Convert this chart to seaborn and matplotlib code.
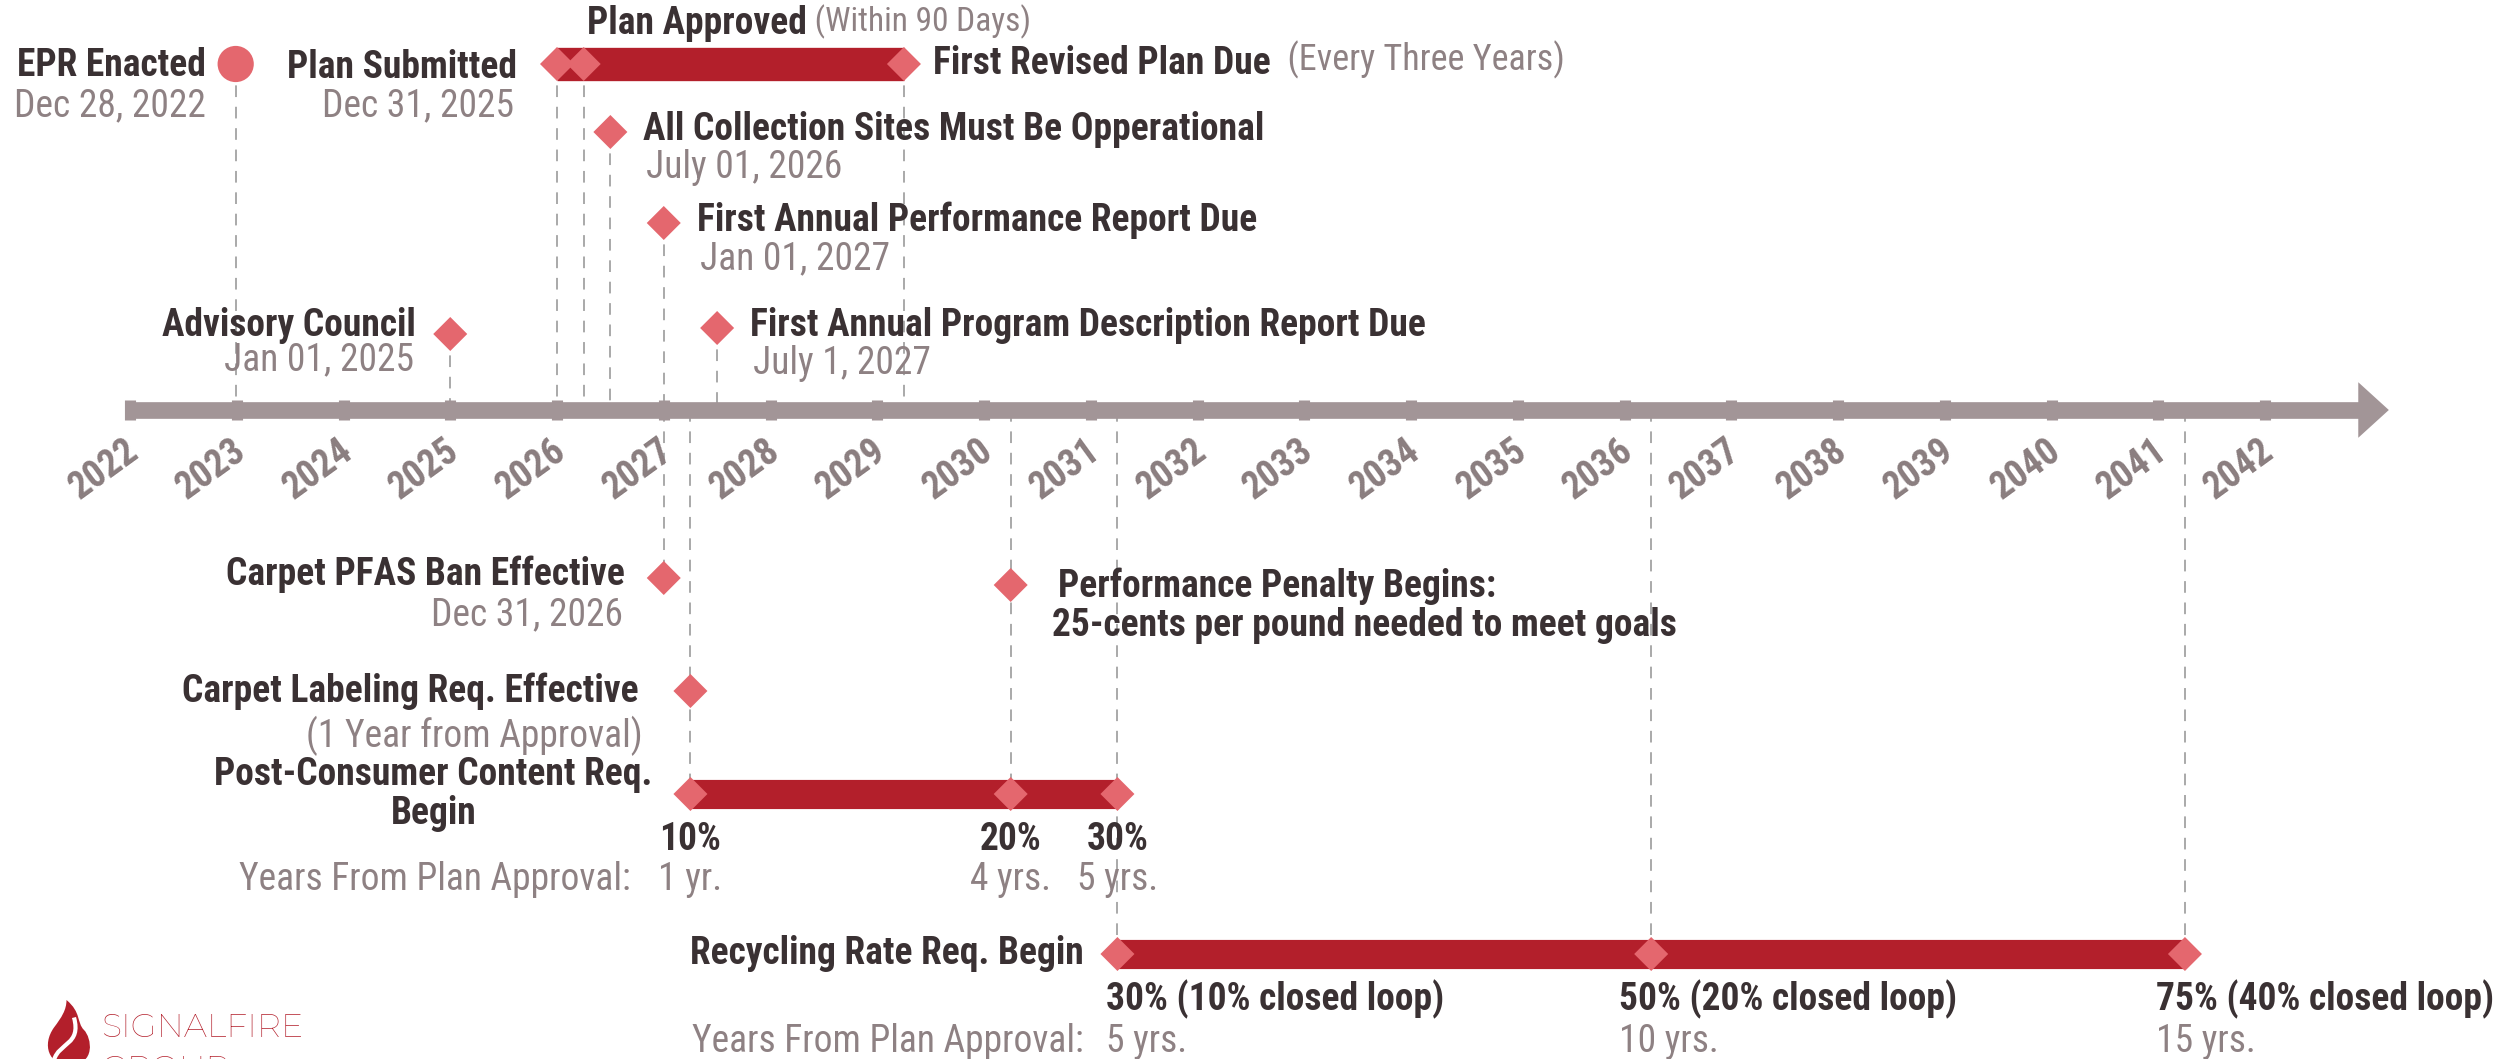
import matplotlib
matplotlib.use("Agg")
import matplotlib.pyplot as plt
import seaborn as sns
import pandas as pd
from matplotlib.path import Path
from matplotlib.patches import PathPatch
from matplotlib.transforms import Affine2D

# ---- data ----
years = list(range(2022, 2043))

epr_name = "EPR Enacted"
epr_date = 2022.99
epr_text = "Dec 28, 2022"

submitted_date = 2026.0
submitted_text = "Dec 31, 2025"
approved_date = 2026.25
revised_date = 2029.25

above_names = ["Advisory Council", "All Collection Sites Must Be Opperational",
               "First Annual Performance Report Due", "First Annual Program Description Report Due"]
above_dates = [2025.0, 2026.5, 2027.0, 2027.5]
above_texts = ["Jan 01, 2025", "July 01, 2026", "Jan 01, 2027", "July 1, 2027"]

pfas_date = 2027.0
pfas_text = "Dec 31, 2026"
labeling_date = 2027.25
penalty_date = 2030.25

pcc_dates = [2027.25, 2030.25, 2031.25]
pcc_pct = ["10%", "20%", "30%"]
pcc_yrs = ["1 yr.", "4 yrs.", "5 yrs."]

rec_dates = [2031.25, 2036.25, 2041.25]
rec_pct = ["30% (10% closed loop)", "50% (20% closed loop)", "75% (40% closed loop)"]
rec_yrs = ["5 yrs.", "10 yrs.", "15 yrs."]

# ---- layout (pixels, y measured from top) ----
W, H = 2519, 1059
PPY = 106.75                      # pixels per year
X0 = 2022 - 130 / PPY
X1 = X0 + W / PPY

Y_TOP = 64
Y_AXIS = 410
Y_ABOVE = [334, 132, 223, 328]
Y_PFAS = 578
Y_PENALTY = 585
Y_LABEL = 691
Y_PCC = 794
Y_REC = 954

DARK = "#3a3133"
GRAY = "#8e8183"
AXIS = "#a29597"
BAR = "#b31f2b"
DIAMOND = "#e4676e"
DASH = "#a9a9a9"
FONT = ["Roboto Condensed", "DejaVu Sans"]
FS = 27

sns.set_theme(style="white")
plt.rcParams["font.family"] = FONT

fig = plt.figure(figsize=(W / 100, H / 100), dpi=100)
ax = fig.add_axes([0, 0, 1, 1])


def txt(x, y, s, dx=0, ha="left", bold=True, color=DARK, size=FS, va="center", **kw):
    return ax.annotate(s, xy=(x, y), xytext=(dx, 0), textcoords="offset pixels",
                       ha=ha, va=va, fontsize=size, color=color,
                       fontweight="bold" if bold else "normal", family=FONT, **kw)


dash = dict(colors=DASH, linestyles=(0, (6, 5)), linewidth=1.4, zorder=1)

# diamonds and the EPR circle
marks = pd.DataFrame({
    "x": [submitted_date, approved_date, revised_date] + above_dates
         + [pfas_date, penalty_date, labeling_date] + pcc_dates + rec_dates,
    "y": [Y_TOP] * 3 + Y_ABOVE + [Y_PFAS, Y_PENALTY, Y_LABEL] + [Y_PCC] * 3 + [Y_REC] * 3,
})
sns.scatterplot(data=marks, x="x", y="y", marker="D", s=300, color=DIAMOND,
                edgecolor="none", ax=ax, zorder=4, legend=False)
sns.scatterplot(x=[epr_date], y=[Y_TOP], marker="o", s=680, color=DIAMOND,
                edgecolor="none", ax=ax, zorder=4, legend=False)
ax.set_xlim(X0, X1)
ax.set_ylim(H, 0)
ax.axis("off")

# dashed drop lines
ax.vlines([epr_date, submitted_date, approved_date, revised_date], Y_TOP, Y_AXIS, **dash)
ax.vlines(above_dates, Y_ABOVE, Y_AXIS, **dash)
ax.vlines(pfas_date, Y_AXIS, Y_PFAS, **dash)
ax.vlines([labeling_date, penalty_date], Y_AXIS, Y_PCC, **dash)
ax.vlines(rec_dates, Y_AXIS, Y_REC, **dash)

# main axis with arrow
ax.hlines(Y_AXIS, years[0] - 0.05, 2042.9, colors=AXIS, linewidth=12, capstyle="butt", zorder=2)
ax.vlines(years, Y_AXIS - 10, Y_AXIS + 10, colors=AXIS, linewidth=8, zorder=2)
ax.annotate("", xy=(2043.16, Y_AXIS), xytext=(2042.8, Y_AXIS),
            arrowprops=dict(arrowstyle="-|>,head_length=22,head_width=20", mutation_scale=1,
                            color=AXIS, lw=0, shrinkA=0, shrinkB=0))
for yr in years:
    ax.annotate(str(yr), xy=(yr, Y_AXIS + 22), xytext=(-6, 0), textcoords="offset pixels",
                rotation=36, rotation_mode="anchor", ha="right", va="top",
                fontsize=27, fontweight="bold", color="#8a7d7f", family=FONT)

# range bars
ax.hlines(Y_TOP, submitted_date, revised_date, colors=BAR, linewidth=24, capstyle="butt", zorder=3)
ax.hlines(Y_PCC, pcc_dates[0], pcc_dates[-1], colors=BAR, linewidth=21, capstyle="butt", zorder=3)
ax.hlines(Y_REC, rec_dates[0], rec_dates[-1], colors=BAR, linewidth=21, capstyle="butt", zorder=3)

# top labels
txt(epr_date, Y_TOP + 2, epr_name, dx=-30, ha="right")
txt(epr_date, Y_TOP + 42, epr_text, dx=-30, ha="right", bold=False, color=GRAY)
txt(submitted_date, Y_TOP + 3, "Plan Submitted", dx=-40, ha="right")
txt(submitted_date, Y_TOP + 42, submitted_text, dx=-43, ha="right", bold=False, color=GRAY)
t = txt(approved_date, 24, "Plan Approved", dx=3)
ax.annotate(" (Within 90 Days)", xy=(1, 0.1), xycoords=t, va="bottom", ha="left",
            fontsize=24, color=GRAY, family=FONT)
t = txt(revised_date, Y_TOP, "First Revised Plan Due", dx=29)
ax.annotate("  (Every Three Years)", xy=(1, 0.1), xycoords=t, va="bottom", ha="left",
            fontsize=26, color=GRAY, family=FONT)

# labels above the axis
txt(above_dates[0], Y_ABOVE[0] - 9, above_names[0], dx=-34, ha="right")
txt(above_dates[0], Y_ABOVE[0] + 26, above_texts[0], dx=-36, ha="right", bold=False, color=GRAY)
for d, y, name, s in zip(above_dates[1:], Y_ABOVE[1:], above_names[1:], above_texts[1:]):
    txt(d, y - 3, name, dx=33)
    txt(d, y + 36, s, dx=36, bold=False, color=GRAY)

# labels below the axis
txt(pfas_date, Y_PFAS - 4, "Carpet PFAS Ban Effective", dx=-39, ha="right")
txt(pfas_date, Y_PFAS + 37, pfas_text, dx=-41, ha="right", bold=False, color=GRAY)
txt(penalty_date, Y_PENALTY + 1, "Performance Penalty Begins:", dx=47)
txt(penalty_date, Y_PENALTY + 40, "25-cents per pound needed to meet goals", dx=41)
txt(labeling_date, Y_LABEL, "Carpet Labeling Req. Effective", dx=-52, ha="right")
txt(labeling_date, Y_LABEL + 45, "(1 Year from Approval)", dx=-48, ha="right", bold=False, color=GRAY)

# post-consumer content
txt(pcc_dates[0], Y_PCC, "Post-Consumer Content Req.\nBegin", dx=-257, ha="center",
    multialignment="center", linespacing=1.05)
for d, p, yv in zip(pcc_dates, pcc_pct, pcc_yrs):
    txt(d, Y_PCC + 45, p, ha="center")
    txt(d, Y_PCC + 85, yv, ha="center", bold=False, color=GRAY)
txt(pcc_dates[0], Y_PCC + 85, "Years From Plan Approval:", dx=-60, ha="right", bold=False, color=GRAY)

# recycling rate
txt(rec_dates[0], Y_REC, "Recycling Rate Req. Begin", dx=-34, ha="right")
for d, p, yv, off in zip(rec_dates, rec_pct, rec_yrs, [-11, -32, -29]):
    txt(d, Y_REC + 45, p, dx=off)
    txt(d, Y_REC + 87, yv, dx=off, bold=False, color=GRAY)
txt(rec_dates[0], Y_REC + 87, "Years From Plan Approval:", dx=-34, ha="right", bold=False, color=GRAY)

# logo: flame + name, cut off by the bottom edge like the original
flame = Path([(0.5, 0), (0.1, 0), (-0.05, 0.4), (0.2, 0.75),
              (0.35, 0.95), (0.45, 1.1), (0.45, 1.3),
              (0.75, 1.05), (0.65, 0.85), (0.8, 0.7),
              (0.95, 0.55), (1.05, 0.0), (0.5, 0), (0.5, 0)],
             [Path.MOVETO] + [Path.CURVE4] * 12 + [Path.CLOSEPOLY])
swoosh = Path([(0.2, 0.1), (0.3, 0.45), (0.75, 0.4), (0.6, 0.95)],
              [Path.MOVETO, Path.CURVE4, Path.CURVE4, Path.CURVE4])
logo_tf = Affine2D().scale(50, 50).translate(44, -6)
fig.patches.append(PathPatch(flame, facecolor=BAR, edgecolor="none", transform=logo_tf, figure=fig))
fig.patches.append(PathPatch(swoosh, facecolor="none", edgecolor="white", lw=3,
                             transform=logo_tf, figure=fig))
logo_font = ["Montserrat", "Lato", "DejaVu Sans"]
fig.text(101 / W, 1 - 1028 / H, "SIGNALFIRE", color=BAR, fontsize=24, fontweight=500,
         family=logo_font, va="center", ha="left")
fig.text(101 / W, 1 - 1070 / H, "GROUP", color=BAR, fontsize=24, fontweight=500,
         family=logo_font, va="center", ha="left")

fig.savefig("out.png", dpi=100)
